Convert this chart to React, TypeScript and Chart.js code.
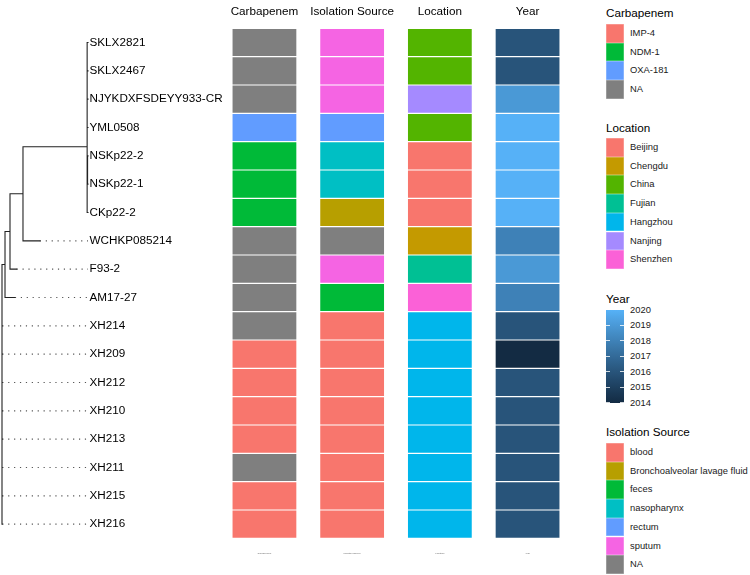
import React, { useEffect, useRef } from "react";
import { Chart, registerables } from "chart.js";

Chart.register(...registerables);

const FONT = "'Liberation Sans', Arial, Helvetica, sans-serif";

// ---------- data ----------
const tipLabels = [
  "SKLX2821", "SKLX2467", "NJYKDXFSDEYY933-CR", "YML0508", "NSKp22-2", "NSKp22-1",
  "CKp22-2", "WCHKP085214", "F93-2", "AM17-27", "XH214", "XH209", "XH212", "XH210",
  "XH213", "XH211", "XH215", "XH216",
];

const carbapenem = [
  "NA", "NA", "NA", "OXA-181", "NDM-1", "NDM-1", "NDM-1", "NA", "NA", "NA", "NA",
  "IMP-4", "IMP-4", "IMP-4", "IMP-4", "NA", "IMP-4", "IMP-4",
];

const isolationSource = [
  "sputum", "sputum", "sputum", "rectum", "nasopharynx", "nasopharynx",
  "Bronchoalveolar lavage fluid", "NA", "sputum", "feces", "blood", "blood", "blood",
  "blood", "blood", "blood", "blood", "blood",
];

const location = [
  "China", "China", "Nanjing", "China", "Beijing", "Beijing", "Beijing", "Chengdu",
  "Fujian", "Shenzhen", "Hangzhou", "Hangzhou", "Hangzhou", "Hangzhou", "Hangzhou",
  "Hangzhou", "Hangzhou", "Hangzhou",
];

const year = [
  2016, 2016, 2019, 2020, 2020, 2020, 2020, 2018, 2019, 2018, 2016, 2014, 2016, 2016,
  2016, 2016, 2016, 2016,
];

const columnNames = ["Carbapenem", "Isolation Source", "Location", "Year"];

const carbapenemLevels = ["IMP-4", "NDM-1", "OXA-181", "NA"];
const carbapenemColors = ["#F8766D", "#00BA38", "#619CFF", "#7F7F7F"];

const locationLevels = ["Beijing", "Chengdu", "China", "Fujian", "Hangzhou", "Nanjing", "Shenzhen"];
const locationColors = ["#F8766D", "#C49A00", "#53B400", "#00C094", "#00B6EB", "#A58AFF", "#FB61D7"];

const sourceLevels = ["blood", "Bronchoalveolar lavage fluid", "feces", "nasopharynx", "rectum", "sputum", "NA"];
const sourceColors = ["#F8766D", "#B79F00", "#00BA38", "#00BFC4", "#619CFF", "#F564E3", "#7F7F7F"];

const yearTicks = [2020, 2019, 2018, 2017, 2016, 2015, 2014];
const yearMin = 2014;
const yearMax = 2020;
const yearLow = "#132B43";
const yearHigh = "#56B1F7";

// tree: tips (depth = distance from root, scaled so the deepest tip is 1)
const tipParents = ["A", "A", "A", "A", "N1", "N1", "A", "B", "C", "D",
  "root", "root", "root", "root", "root", "root", "root", "root"];
const tipDepths = [1, 1, 1, 1, 1, 1, 1, 0.44, 0.17, 0.15,
  0.003, 0.003, 0.003, 0.003, 0.003, 0.003, 0.003, 0.003];
// internal nodes
const nodeIds = ["root", "D", "C", "B", "A", "N1"];
const nodeParents = [null, "root", "D", "C", "B", "A"];
const nodeDepths = [0, 0.035, 0.093, 0.244, 0.99, 0.995];
const nodeYOverride: (number | null)[] = [null, null, null, null, 3.68, null];

// ---------- colour helpers (Lab interpolation like ggplot's gradient) ----------
function hexToRgb(h: string) {
  return [parseInt(h.slice(1, 3), 16), parseInt(h.slice(3, 5), 16), parseInt(h.slice(5, 7), 16)];
}
const sToL = (c: number) => { c /= 255; return c <= 0.04045 ? c / 12.92 : Math.pow((c + 0.055) / 1.055, 2.4); };
const lToS = (c: number) => {
  const v = c <= 0.0031308 ? 12.92 * c : 1.055 * Math.pow(c, 1 / 2.4) - 0.055;
  return Math.round(Math.max(0, Math.min(1, v)) * 255);
};
const Xn = 0.95047, Yn = 1.0, Zn = 1.08883;
const fLab = (t: number) => (t > 0.008856 ? Math.cbrt(t) : 7.787 * t + 16 / 116);
const fInv = (t: number) => { const t3 = t * t * t; return t3 > 0.008856 ? t3 : (t - 16 / 116) / 7.787; };
function toLab(hex: string) {
  const [r, g, b] = hexToRgb(hex).map(sToL);
  const X = 0.4124 * r + 0.3576 * g + 0.1805 * b;
  const Y = 0.2126 * r + 0.7152 * g + 0.0722 * b;
  const Z = 0.0193 * r + 0.1192 * g + 0.9505 * b;
  const fx = fLab(X / Xn), fy = fLab(Y / Yn), fz = fLab(Z / Zn);
  return [116 * fy - 16, 500 * (fx - fy), 200 * (fy - fz)];
}
function fromLab(L: number, a: number, bb: number) {
  const fy = (L + 16) / 116, fx = fy + a / 500, fz = fy - bb / 200;
  const X = Xn * fInv(fx), Y = Yn * fInv(fy), Z = Zn * fInv(fz);
  const r = 3.2406 * X - 1.5372 * Y - 0.4986 * Z;
  const g = -0.9689 * X + 1.8758 * Y + 0.0415 * Z;
  const b = 0.0557 * X - 0.204 * Y + 1.057 * Z;
  return `rgb(${lToS(r)},${lToS(g)},${lToS(b)})`;
}
const labLow = toLab(yearLow);
const labHigh = toLab(yearHigh);
function yearColor(y: number) {
  const t = (y - yearMin) / (yearMax - yearMin);
  return fromLab(
    labLow[0] + (labHigh[0] - labLow[0]) * t,
    labLow[1] + (labHigh[1] - labLow[1]) * t,
    labLow[2] + (labHigh[2] - labLow[2]) * t,
  );
}

function tileColor(col: number, row: number) {
  if (col === 0) return carbapenemColors[carbapenemLevels.indexOf(carbapenem[row])];
  if (col === 1) return sourceColors[sourceLevels.indexOf(isolationSource[row])];
  if (col === 2) return locationColors[locationLevels.indexOf(location[row])];
  return yearColor(year[row]);
}

// ---------- tree geometry from structure ----------
function buildTree() {
  const depth: Record<string, number> = {};
  const parent: Record<string, string | null> = {};
  const children: Record<string, string[]> = {};
  nodeIds.forEach((id, i) => { depth[id] = nodeDepths[i]; parent[id] = nodeParents[i]; children[id] = []; });
  tipLabels.forEach((t, i) => { depth["t" + i] = tipDepths[i]; parent["t" + i] = tipParents[i]; });
  Object.keys(parent).forEach((k) => { const p = parent[k]; if (p) children[p].push(k); });
  const yCache: Record<string, number> = {};
  const getY = (id: string): number => {
    if (yCache[id] !== undefined) return yCache[id];
    let v: number;
    if (id.startsWith("t")) v = Number(id.slice(1));
    else {
      const ov = nodeYOverride[nodeIds.indexOf(id)];
      const cy = children[id].map(getY);
      v = ov !== null ? ov : cy.reduce((a, b) => a + b, 0) / cy.length;
    }
    yCache[id] = v;
    return v;
  };
  const solid: any[] = [];
  const dotted: any[] = [];
  const gap = (x: number) => ({ x, y: null });
  Object.keys(parent).forEach((id) => {
    const p = parent[id];
    const y = getY(id);
    if (p) solid.push({ x: depth[p], y }, { x: depth[id], y }, gap(depth[id]));
    if (children[id] && children[id].length) {
      const cy = children[id].map(getY);
      solid.push({ x: depth[id], y: Math.min(...cy) }, { x: depth[id], y: Math.max(...cy) }, gap(depth[id]));
    }
  });
  tipLabels.forEach((_, i) => {
    if (tipDepths[i] < 1) dotted.push({ x: tipDepths[i], y: i }, { x: 1, y: i }, gap(1));
  });
  return { solid, dotted };
}

// ---------- layout constants ----------
const TOP = 28.33;
const BOTTOM = 538.33;
const H = 575;
const ROOT_PX = 2;
const TIP_PX = 88;
const TREE_W = 230;
const HEAT_LEFT = 220;
const HEAT_W = 360;
const CAT_W = 87.7;

const LEG_X = 606;
const SW_W = 18;
const KEY_H = 18.7;
const LABEL_X = 630;

function Title({ text, cy }: { text: string; cy: number }) {
  return (
    <div style={{ position: "absolute", left: LEG_X, top: cy - 8, height: 16, lineHeight: "16px", fontSize: 11.7, color: "#000", whiteSpace: "nowrap" }}>
      {text}
    </div>
  );
}

function Discrete({ title, titleCy, keysTop, levels, colors }: { title: string; titleCy: number; keysTop: number; levels: string[]; colors: string[] }) {
  return (
    <>
      <Title text={title} cy={titleCy} />
      {levels.map((lv, i) => (
        <React.Fragment key={lv}>
          <div style={{ position: "absolute", left: LEG_X, top: keysTop + i * KEY_H, width: SW_W, height: KEY_H, background: colors[i], boxShadow: "inset 0 0 0 0.5px rgba(255,255,255,0.45)" }} />
          <div style={{ position: "absolute", left: LABEL_X, top: keysTop + i * KEY_H, height: KEY_H, lineHeight: KEY_H + "px", fontSize: 9.4, color: "#1a1a1a", whiteSpace: "nowrap" }}>
            {lv}
          </div>
        </React.Fragment>
      ))}
    </>
  );
}

function YearLegend({ titleCy, barTop, barBottom }: { titleCy: number; barTop: number; barBottom: number }) {
  const stops: string[] = [];
  for (let i = 0; i <= 20; i++) {
    const y = yearMin + ((yearMax - yearMin) * i) / 20;
    stops.push(`${yearColor(y)} ${(i / 20) * 100}%`);
  }
  const pos = (y: number) => barTop + ((yearMax - y) / (yearMax - yearMin)) * (barBottom - barTop);
  return (
    <>
      <Title text="Year" cy={titleCy} />
      <div style={{ position: "absolute", left: LEG_X, top: barTop, width: SW_W, height: barBottom - barTop, background: `linear-gradient(to top, ${stops.join(",")})` }} />
      {yearTicks.map((y) => (
        <React.Fragment key={y}>
          <div style={{ position: "absolute", left: LEG_X, top: pos(y) - 0.5, width: 3.6, height: 1, background: "rgba(255,255,255,0.8)" }} />
          <div style={{ position: "absolute", left: LEG_X + SW_W - 3.6, top: pos(y) - 0.5, width: 3.6, height: 1, background: "rgba(255,255,255,0.8)" }} />
          <div style={{ position: "absolute", left: LABEL_X, top: pos(y) - 7, height: 14, lineHeight: "14px", fontSize: 9.4, color: "#1a1a1a" }}>{y}</div>
        </React.Fragment>
      ))}
    </>
  );
}

export default function App() {
  const treeRef = useRef<HTMLCanvasElement>(null);
  const heatRef = useRef<HTMLCanvasElement>(null);

  useEffect(() => {
    const { solid, dotted } = buildTree();
    const xMin = -ROOT_PX / (TIP_PX - ROOT_PX);

    const tree = new Chart(treeRef.current!, {
      type: "line",
      data: {
        datasets: [
          {
            data: solid,
            borderColor: "#222",
            borderWidth: 1.1,
            pointRadius: 0,
            tension: 0,
            spanGaps: false,
            borderCapStyle: "square",
            clip: false,
          } as any,
          {
            data: dotted,
            borderColor: "#555",
            borderWidth: 1.1,
            borderDash: [1.2, 4.7],
            pointRadius: 0,
            tension: 0,
            spanGaps: false,
            clip: false,
          } as any,
        ],
      },
      options: {
        animation: false,
        responsive: false,
        events: [],
        layout: { padding: { top: TOP, bottom: H - BOTTOM, left: 0, right: 0 } },
        plugins: { legend: { display: false }, tooltip: { enabled: false } },
        scales: {
          x: { type: "linear", display: false, min: xMin, max: 1 },
          y: {
            type: "linear",
            position: "right",
            reverse: true,
            min: -0.5,
            max: tipLabels.length - 0.5,
            grid: { display: false, drawTicks: false },
            border: { display: false },
            ticks: {
              autoSkip: false,
              padding: 1.5,
              color: "#000",
              font: { family: FONT, size: 11.7 },
              callback: (v: any) => tipLabels[v as number] ?? "",
            },
            afterBuildTicks: (s: any) => { s.ticks = tipLabels.map((_, i) => ({ value: i })); },
            afterFit: (s: any) => { s.width = TREE_W - TIP_PX; },
          },
        },
      } as any,
    });

    const padL = 264.45 - CAT_W / 2 - HEAT_LEFT;
    const padR = HEAT_W - padL - CAT_W * columnNames.length;

    const heat = new Chart(heatRef.current!, {
      type: "bar",
      data: {
        labels: columnNames,
        datasets: tipLabels.map((name, r) => ({
          label: name,
          data: columnNames.map(() => [r - 0.5, r + 0.5]),
          backgroundColor: columnNames.map((_, c) => tileColor(c, r)),
          borderColor: "rgba(255,255,255,0.3)",
          borderWidth: 0.6,
          borderSkipped: false,
          grouped: false,
          barPercentage: 65 / CAT_W,
          categoryPercentage: 1,
        })) as any,
      },
      options: {
        animation: false,
        responsive: false,
        events: [],
        layout: { padding: { top: 0, bottom: 0, left: padL, right: padR } },
        plugins: { legend: { display: false }, tooltip: { enabled: false } },
        scales: {
          x: {
            type: "category",
            position: "top",
            offset: true,
            grid: { display: false, drawTicks: false },
            border: { display: false },
            ticks: { color: "#000", font: { family: FONT, size: 11.7 }, padding: 9.3, maxRotation: 0, autoSkip: false },
            afterFit: (s: any) => { s.height = TOP; },
          },
          xb: {
            type: "category",
            axis: "x",
            labels: columnNames,
            position: "bottom",
            offset: true,
            grid: { display: false, drawTicks: false },
            border: { display: false },
            ticks: { color: "#666", font: { family: FONT, size: 2.4 }, padding: 13.3, maxRotation: 0, autoSkip: false },
            afterFit: (s: any) => { s.height = H - BOTTOM; },
          },
          y: { type: "linear", display: false, reverse: true, min: -0.5, max: tipLabels.length - 0.5 },
        },
      } as any,
    });

    return () => { tree.destroy(); heat.destroy(); };
  }, []);

  return (
    <div style={{ position: "fixed", left: 0, top: 0, width: 750, height: H, background: "#fff", overflow: "hidden", fontFamily: FONT }}>
      <canvas ref={treeRef} width={TREE_W} height={H} style={{ position: "absolute", left: 0, top: 0, width: TREE_W, height: H }} />
      <canvas ref={heatRef} width={HEAT_W} height={H} style={{ position: "absolute", left: HEAT_LEFT, top: 0, width: HEAT_W, height: H }} />
      <Discrete title="Carbapenem" titleCy={12.7} keysTop={24} levels={carbapenemLevels} colors={carbapenemColors} />
      <Discrete title="Location" titleCy={128} keysTop={138} levels={locationLevels} colors={locationColors} />
      <YearLegend titleCy={299} barTop={309.5} barBottom={402.5} />
      <Discrete title="Isolation Source" titleCy={432} keysTop={443} levels={sourceLevels} colors={sourceColors} />
    </div>
  );
}
